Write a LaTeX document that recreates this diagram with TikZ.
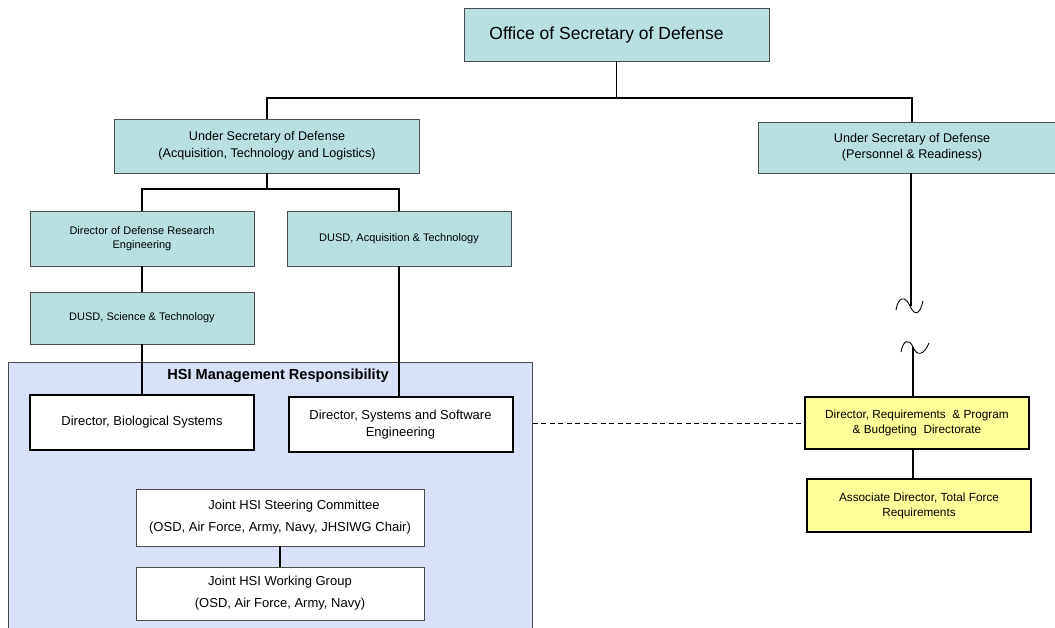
\documentclass[tikz,border=0pt]{standalone}
\usepackage{fontspec}
\setmainfont{Liberation Sans}
\definecolor{orgblue}{RGB}{185,223,225}
\definecolor{hsiblue}{RGB}{217,225,248}
\definecolor{orgyellow}{RGB}{255,255,153}
\begin{document}
\begin{tikzpicture}[x=1pt,y=-1pt,
  unit/.style={draw=black!70,line width=.8pt,fill=orgblue,align=center,inner sep=0pt},
  director/.style={draw=black,line width=2pt,fill=white,align=center,inner sep=0pt,minimum width=224pt,minimum height=55pt,font=\fontsize{13}{17}\selectfont},
  joint/.style={draw=black!70,line width=.6pt,fill=white,align=center,inner sep=0pt,minimum width=288pt,font=\fontsize{13}{22}\selectfont},
  pr/.style={draw=black,line width=2pt,fill=orgyellow,align=center,inner sep=0pt,minimum width=224pt,font=\fontsize{11.8}{15}\selectfont},
  bus/.style={line width=1.6pt},
  stem/.style={line width=1.1pt}]
\useasboundingbox (0,0) rectangle (1055,628);
\clip (0,0) rectangle (1055,628);
% HSI area
\node[draw=black!70,line width=.6pt,fill=hsiblue,minimum width=524pt,minimum height=280pt,inner sep=0pt,anchor=north west] (hsi) at (8,362) {};
\node[font=\fontsize{14.6}{17}\selectfont\bfseries] (hsititle) at (278,376) {HSI Management Responsibility};
% top levels
\node[unit,minimum width=305pt,minimum height=53pt,font=\fontsize{17.5}{20}\selectfont] (osd) at (616.5,34.5) {Office of Secretary of Defense\hspace{20pt}};
\node[unit,minimum width=304.5pt,minimum height=54pt,font=\fontsize{12.6}{17}\selectfont] (atl) at (267,146) {Under Secretary of Defense\\(Acquisition, Technology and Logistics)};
\node[unit,minimum width=308pt,minimum height=51pt,font=\fontsize{12.6}{16}\selectfont] (per) at (912,147.5) {Under Secretary of Defense\\(Personnel \& Readiness)};
\node[unit,minimum width=224pt,minimum height=55pt,font=\fontsize{11}{13.8}\selectfont] (ddre) at (142,238.5) {Director of Defense Research\\Engineering};
\node[unit,minimum width=224pt,minimum height=55pt,font=\fontsize{11}{13.8}\selectfont] (dat) at (399,238.5) {DUSD, Acquisition \& Technology};
\node[unit,minimum width=224pt,minimum height=52pt,font=\fontsize{11}{13.8}\selectfont] (dst) at (142,318) {DUSD, Science \& Technology};
% HSI boxes
\node[director] (bio) at (142,422.5) {Director, Biological Systems};
\node[director] (sse) at (400.5,424.5) {Director, Systems and Software\\Engineering};
\node[joint,minimum height=57pt] (jsc) at (280,517.5) {\hspace{28pt}Joint HSI Steering Committee\\(OSD, Air Force, Army, Navy, JHSIWG Chair)};
\node[joint,minimum height=53pt] (jwg) at (280,593.5) {Joint HSI Working Group\\(OSD, Air Force, Army, Navy)};
% P&R side
\node[pr,minimum height=52pt] (drp) at (917,423) {Director, Requirements \ \& Program\\\& Budgeting \ Directorate\hspace{6pt}};
\node[pr,minimum height=53pt] (adt) at (919,505.5) {Associate Director, Total Force\\Requirements};
\coordinate (top) at (616.5,98);
\coordinate (mid) at (267,189);
\coordinate (brkA) at (911,306);
\coordinate (brkB) at (913,347);
\draw[stem] (osd) -- (top);
\draw[bus] (atl.north) |- (top) -| (per.north);
\draw[stem] (atl) -- (mid);
\draw[bus] (ddre.north) |- (mid) -| (dat.north);
\draw[stem] (ddre) -- (dst);
\draw[stem] (dst) -- (bio);
\draw[stem] (dat.south) -- (dat.south |- sse.north);
\draw[stem] (jsc) -- (jwg);
\draw[bus] (per.south -| brkA) -- (brkA);
\draw[bus] (brkB) -- (brkB |- drp.north);
\draw[bus] (brkB |- drp.south) -- (brkB |- adt.north);
\draw[line width=1pt,dash pattern=on 5pt off 3.5pt] (hsi.east |- drp.west) -- (drp.west);
% breaks
\draw[line width=.9pt] (896,310) .. controls (898,297) and (905,295) .. (910,306) .. controls (915,317) and (920,314) .. (923,301);
\draw[line width=.9pt] (901,352) .. controls (903,340) and (909,338) .. (913,347) .. controls (917,357) and (924,355) .. (929,343);
\end{tikzpicture}
\end{document}
